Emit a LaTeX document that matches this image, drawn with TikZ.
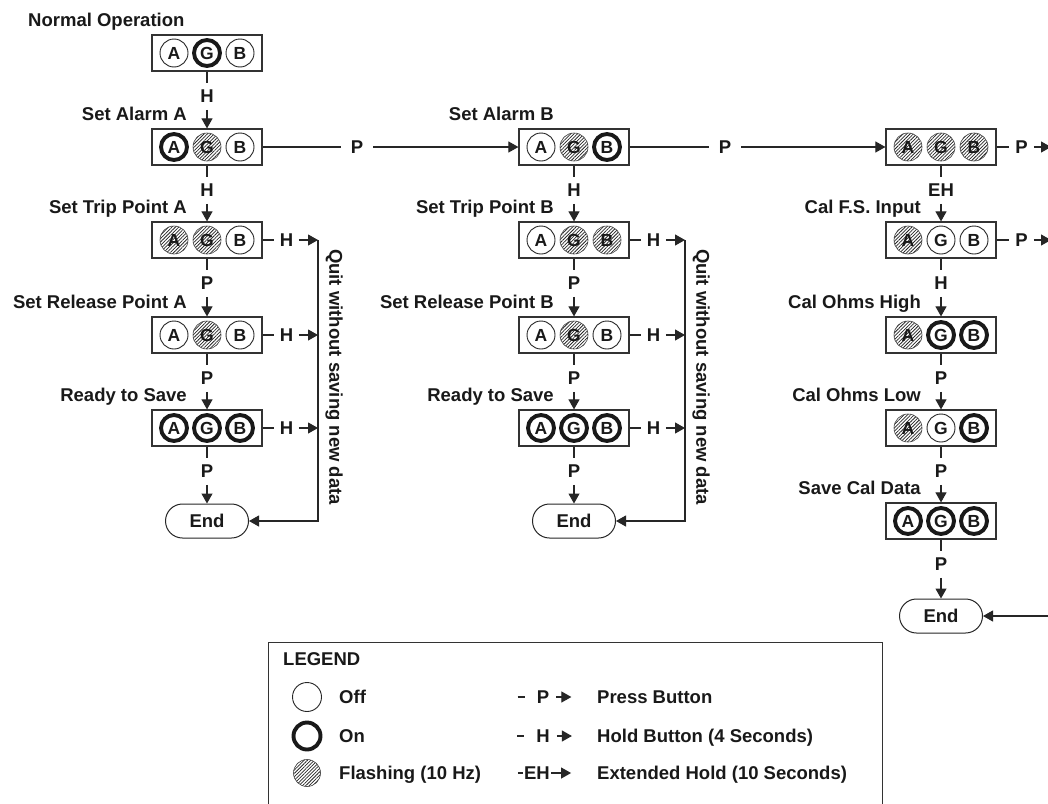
\documentclass[tikz,border=0pt]{standalone}
\usepackage{fontspec}
\setmainfont{Liberation Sans}
\usetikzlibrary{arrows.meta,calc,shapes.misc,patterns.meta}
\tikzset{
  lbl/.style={font=\bfseries\fontsize{18.5}{20}\selectfont, inner sep=0pt, text=black!90},
  panel/.style={draw=black!80, line width=1.2pt, minimum width=110pt, minimum height=36pt, inner sep=0pt, fill=white},
  lamp/.style={circle, inner sep=0pt, minimum size=28pt, font=\bfseries\fontsize{17.5}{17.5}\selectfont, text=black!90},
  lampoff/.style={lamp, draw=black!85, line width=0.9pt},
  lampon/.style={lamp, draw=black!90, line width=3.9pt, minimum size=26pt},
  lampflash/.style={lamp, draw=black!75, line width=0.6pt, pattern={Lines[angle=45,distance=2.4pt,line width=0.75pt]}, pattern color=black!85},
  conn/.style={draw=black!85, line width=1.1pt},
  arr/.style={conn, -{Triangle[length=10pt,width=11pt]}},
  vl/.style={lbl, minimum height=26pt},
  hl/.style={lbl, minimum width=24pt},
  hlw/.style={lbl, minimum width=32pt},
  head/.style={lbl, anchor=base east},
  endbox/.style={rounded rectangle, draw=black!85, line width=1pt, minimum width=83pt, minimum height=34pt, inner sep=0pt, font=\bfseries\fontsize{18.5}{20}\selectfont, text=black!90, fill=white}
}
\newcommand{\lamps}[6]{%
  \node[panel] (#1) at (#2,#3) {};
  \node[#4] (#1a) at ($(#1)+(-33,0)$) {A};
  \node[#5] (#1g) at (#1) {G};
  \node[#6] (#1b) at ($(#1)+(33,0)$) {B};
}
\newcommand{\vconn}[4]{%
  \node[vl] (#4) at ($(#1.south)+(0,25)$) {#3};
  \draw[conn] (#1.south) -- (#4.north);
  \draw[arr] (#4.south) -- (#2.north);
}
\newcommand{\heading}[3]{%
  \node[head] (#2) at ($(#1.north)+(-20,-7.5)$) {#3};
}
\begin{document}
\begin{tikzpicture}[x=1pt,y=-1pt]
\useasboundingbox (0,0) rectangle (1048,803);
\fill[white] (0,0) rectangle (1048,803);
\clip (0,0) rectangle (1048,803);

% ---------- column 1 ----------
\node[lbl, anchor=base west] (tnorm) at (28,26.6) {Normal Operation};
\lamps{n0}{207}{53}{lampoff}{lampon}{lampoff}
\lamps{a0}{207}{147}{lampon}{lampflash}{lampoff}
\lamps{a1}{207}{240}{lampflash}{lampflash}{lampoff}
\lamps{a2}{207}{335}{lampoff}{lampflash}{lampoff}
\lamps{a3}{207}{428}{lampon}{lampon}{lampon}
\node[endbox] (e1) at (207,521) {End};
\heading{a0}{ta0}{Set Alarm A}
\heading{a1}{ta1}{Set Trip Point A}
\heading{a2}{ta2}{Set Release Point A}
\heading{a3}{ta3}{Ready to Save}
\vconn{n0}{a0}{H}{va0}
\vconn{a0}{a1}{H}{va1}
\vconn{a1}{a2}{P}{va2}
\vconn{a2}{a3}{P}{va3}
\vconn{a3}{e1}{P}{va4}

% ---------- column 2 ----------
\lamps{b0}{574}{147}{lampoff}{lampflash}{lampon}
\lamps{b1}{574}{240}{lampoff}{lampflash}{lampflash}
\lamps{b2}{574}{335}{lampoff}{lampflash}{lampoff}
\lamps{b3}{574}{428}{lampon}{lampon}{lampon}
\node[endbox] (e2) at (574,521) {End};
\heading{b0}{tb0}{Set Alarm B}
\heading{b1}{tb1}{Set Trip Point B}
\heading{b2}{tb2}{Set Release Point B}
\heading{b3}{tb3}{Ready to Save}
\vconn{b0}{b1}{H}{vb1}
\vconn{b1}{b2}{P}{vb2}
\vconn{b2}{b3}{P}{vb3}
\vconn{b3}{e2}{P}{vb4}

% ---------- column 3 ----------
\lamps{c0}{941}{147}{lampflash}{lampflash}{lampflash}
\lamps{c1}{941}{240}{lampflash}{lampoff}{lampoff}
\lamps{c2}{941}{335}{lampflash}{lampon}{lampon}
\lamps{c3}{941}{428}{lampflash}{lampoff}{lampon}
\lamps{c4}{941}{521}{lampon}{lampon}{lampon}
\node[endbox] (e3) at (941,616) {End};
\heading{c1}{tc1}{Cal F.S. Input}
\heading{c2}{tc2}{Cal Ohms High}
\heading{c3}{tc3}{Cal Ohms Low}
\heading{c4}{tc4}{Save Cal Data}
\vconn{c0}{c1}{EH}{vc1}
\vconn{c1}{c2}{H}{vc2}
\vconn{c2}{c3}{P}{vc3}
\vconn{c3}{c4}{P}{vc4}
\vconn{c4}{e3}{P}{vc5}

% ---------- horizontal P links ----------
\node[hlw] (pab) at (357,147) {P};
\draw[conn] (a0.east) -- (pab.west);
\draw[arr] (pab.east) -- (b0.west);
\node[hlw] (pbc) at (725,147) {P};
\draw[conn] (b0.east) -- (pbc.west);
\draw[arr] (pbc.east) -- (c0.west);

% ---------- quit without saving (column 1) ----------
\coordinate (q1a) at (318,240);
\coordinate (q1b) at (318,335);
\coordinate (q1c) at (318,428);
\coordinate (q1d) at (318,521);
\foreach \s/\q in {a1/q1a, a2/q1b, a3/q1c}{
  \node[hl] (h\s) at ($(\s.east)+(24,0)$) {H};
  \draw[conn] (\s.east) -- (h\s.west);
  \draw[arr] (h\s.east) -- (\q);
}
\draw[arr] (q1a) -- (q1d) -- (e1.east);
\node[lbl, rotate=-90] (quit1) at (334,377) {Quit without saving new data};

% ---------- quit without saving (column 2) ----------
\coordinate (q2a) at (685,240);
\coordinate (q2b) at (685,335);
\coordinate (q2c) at (685,428);
\coordinate (q2d) at (685,521);
\foreach \s/\q in {b1/q2a, b2/q2b, b3/q2c}{
  \node[hl] (h\s) at ($(\s.east)+(24,0)$) {H};
  \draw[conn] (\s.east) -- (h\s.west);
  \draw[arr] (h\s.east) -- (\q);
}
\draw[arr] (q2a) -- (q2d) -- (e2.east);
\node[lbl, rotate=-90] (quit2) at (701,377) {Quit without saving new data};

% ---------- column 3 right exits ----------
\coordinate (x0) at (1051,147);
\coordinate (x1) at (1051,240);
\coordinate (x3) at (1060,616);
\foreach \s/\q in {c0/x0, c1/x1}{
  \node[hl] (p\s) at ($(\s.east)+(25,0)$) {P};
  \draw[conn] (\s.east) -- (p\s.west);
  \draw[arr] (p\s.east) -- (\q);
}
\draw[arr] (x3) -- (e3.east);

% ---------- legend ----------
\draw[draw=black!80, line width=1pt] (268,642) rectangle (882,840);
\node[lbl, anchor=base west] (leg) at (283,665) {LEGEND};
\node[lampoff, minimum size=29pt] (loff) at (307,697) {};
\node[lampon, minimum size=27pt] (lon) at (307,736) {};
\node[lampflash, minimum size=27pt] (lfl) at (307,773) {};
\node[lbl, anchor=base west] (toff) at (339,703.6) {Off};
\node[lbl, anchor=base west] (ton) at (339,742.6) {On};
\node[lbl, anchor=base west] (tfl) at (339,779.6) {Flashing (10 Hz)};

\node[lbl] (lp) at (543,697) {P};
\node[lbl] (lh) at (543,736) {H};
\node[lbl] (leh) at (537,773) {EH};
\foreach \n in {lp,lh}{
  \draw[conn] ($(\n.west)+(-19,0)$) -- ($(\n.west)+(-12,0)$);
  \draw[arr] ($(\n.east)+(7,0)$) -- ($(\n.east)+(22,0)$);
}
\draw[conn] ($(leh.west)+(-6,0)$) -- ($(leh.west)+(-1,0)$);
\draw[arr] ($(leh.east)+(1,0)$) -- ($(leh.east)+(21,0)$);
\node[lbl, anchor=base west] (tp) at (597,703.6) {Press Button};
\node[lbl, anchor=base west] (th) at (597,742.6) {Hold Button (4 Seconds)};
\node[lbl, anchor=base west] (teh) at (597,779.6) {Extended Hold (10 Seconds)};
\end{tikzpicture}
\end{document}
